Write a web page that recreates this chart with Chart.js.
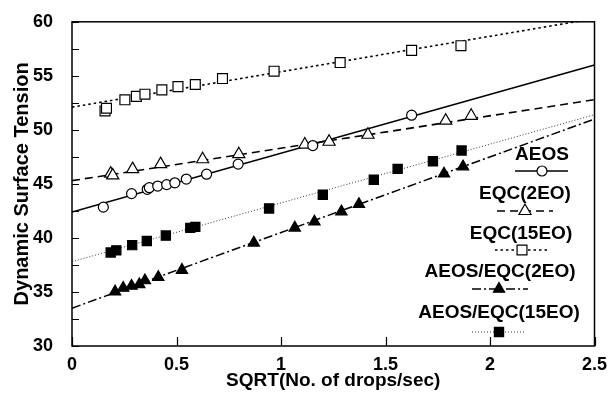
<!DOCTYPE html>
<html>
<head>
<meta charset="utf-8">
<script src="https://cdn.jsdelivr.net/npm/chart.js@4/dist/chart.umd.min.js"></script>
<style>
  html, body { margin: 0; padding: 0; background: #fff; }
  #wrap { width: 612px; height: 396px; }
</style>
</head>
<body>
<div id="wrap"><canvas id="c" width="612" height="396"></canvas></div>
<script>
// Series names
const seriesNames = ['AEOS', 'EQC(2EO)', 'EQC(15EO)', 'AEOS/EQC(2EO)', 'AEOS/EQC(15EO)'];

// Measured points: x = SQRT(drops/sec), y = dynamic surface tension
const aeosX = [0.15, 0.285, 0.36, 0.37, 0.41, 0.453, 0.492, 0.547, 0.644, 0.795, 1.152, 1.625];
const aeosY = [42.85, 44.1, 44.5, 44.65, 44.8, 44.93, 45.1, 45.45, 45.9, 46.83, 48.55, 51.36];

const eqc2X = [0.185, 0.195, 0.29, 0.424, 0.625, 0.798, 1.114, 1.23, 1.416, 1.788, 1.91];
const eqc2Y = [45.95, 45.78, 46.37, 46.83, 47.28, 47.75, 48.64, 48.9, 49.55, 50.85, 51.3];

const eqc15X = [0.158, 0.165, 0.253, 0.308, 0.349, 0.43, 0.507, 0.59, 0.72, 0.967, 1.283, 1.625, 1.861];
const eqc15Y = [51.75, 52.0, 52.78, 53.1, 53.3, 53.7, 54.0, 54.2, 54.75, 55.43, 56.23, 57.36, 57.79];

const mix2X = [0.206, 0.245, 0.285, 0.322, 0.349, 0.413, 0.526, 0.87, 1.066, 1.16, 1.289, 1.373, 1.78, 1.871];
const mix2Y = [35.03, 35.37, 35.55, 35.7, 36.06, 36.36, 37.03, 39.55, 40.94, 41.5, 42.43, 43.12, 45.94, 46.6];

const mix15X = [0.185, 0.212, 0.288, 0.358, 0.449, 0.566, 0.59, 0.943, 1.2, 1.444, 1.558, 1.727, 1.864];
const mix15Y = [38.65, 38.85, 39.33, 39.72, 40.22, 40.93, 41.02, 42.73, 44.0, 45.39, 46.39, 47.09, 48.09];

// Fitted straight lines: value at x = 0 and at x = 2.5
const fitX = [0, 2.5];
const aeosFit = [42.4, 56.0];
const eqc2Fit = [45.3, 52.8];
const eqc15Fit = [52.1, 60.3];
const mix2Fit = [33.5, 51.0];
const mix15Fit = [37.8, 51.4];

// Axis ticks
const xTicks = [0, 0.5, 1, 1.5, 2, 2.5];
const yTicks = [30, 32.5, 35, 37.5, 40, 42.5, 45, 47.5, 50, 52.5, 55, 57.5, 60];
const yLabelled = [30, 35, 40, 45, 50, 55, 60];

const FONT = "'Liberation Sans', Arial, Helvetica, sans-serif";
const pts = (xs, ys) => xs.map((x, i) => ({ x: x, y: ys[i] }));

const markerStyles = [
  { pointStyle: 'circle',   r: 5,   fill: '#fff' },
  { pointStyle: 'triangle', r: 7,   fill: '#fff' },
  { pointStyle: 'rect',     r: 7,   fill: '#fff' },
  { pointStyle: 'triangle', r: 6.5, fill: '#000' },
  { pointStyle: 'rect',     r: 6.5, fill: '#000' }
];
const lineStyles = [
  { dash: [],            width: 1.6, color: '#000' },
  { dash: [8, 5],        width: 1.6, color: '#000' },
  { dash: [2.5, 3],      width: 1.6, color: '#000' },
  { dash: [9, 3, 2, 3],  width: 1.5, color: '#000' },
  { dash: [1, 2],        width: 1.0, color: '#333' }
];

const pointSets = [pts(aeosX, aeosY), pts(eqc2X, eqc2Y), pts(eqc15X, eqc15Y), pts(mix2X, mix2Y), pts(mix15X, mix15Y)];
const fitSets = [aeosFit, eqc2Fit, eqc15Fit, mix2Fit, mix15Fit].map(f => pts(fitX, f));

const datasets = [];
pointSets.forEach((d, i) => {
  const m = markerStyles[i];
  datasets.push({
    type: 'scatter', label: seriesNames[i], data: d, showLine: false,
    pointStyle: m.pointStyle, pointRadius: m.r, pointHoverRadius: m.r,
    pointBackgroundColor: m.fill, pointBorderColor: '#000', pointBorderWidth: 1.2
  });
});
fitSets.forEach((d, i) => {
  const l = lineStyles[i];
  datasets.push({
    type: 'line', label: seriesNames[i] + ' fit', data: d, showLine: true,
    borderColor: l.color, borderWidth: l.width, borderDash: l.dash,
    pointRadius: 0, fill: false, tension: 0
  });
});

function drawMarker(ctx, style, x, y, r, fill) {
  ctx.save();
  ctx.setLineDash([]);
  ctx.lineWidth = 1.2;
  ctx.strokeStyle = '#000';
  ctx.fillStyle = fill;
  ctx.beginPath();
  if (style === 'circle') {
    ctx.arc(x, y, r, 0, Math.PI * 2);
  } else if (style === 'triangle') {
    ctx.moveTo(x, y - r);
    ctx.lineTo(x + r * Math.sin(Math.PI / 3), y + r / 2);
    ctx.lineTo(x - r * Math.sin(Math.PI / 3), y + r / 2);
    ctx.closePath();
  } else {
    const s = r / Math.SQRT2;
    ctx.rect(x - s, y - s, 2 * s, 2 * s);
  }
  ctx.fill();
  ctx.stroke();
  ctx.restore();
}

// Frame, inward tick marks and the stacked legend inside the plot
const framePlugin = {
  id: 'frame',
  afterDraw(chart) {
    const ctx = chart.ctx;
    const a = chart.chartArea;
    const xs = chart.scales.x, ys = chart.scales.y;
    ctx.save();
    ctx.strokeStyle = '#000';
    ctx.lineWidth = 1.5;
    ctx.setLineDash([]);
    ctx.strokeRect(a.left, a.top, a.right - a.left, a.bottom - a.top);
    ctx.lineWidth = 1.2;
    ctx.beginPath();
    yTicks.forEach(v => {
      const p = Math.round(ys.getPixelForValue(v)) + 0.5;
      ctx.moveTo(a.left, p); ctx.lineTo(a.left + 7, p);
    });
    xTicks.forEach(v => {
      const p = Math.round(xs.getPixelForValue(v)) + 0.5;
      ctx.moveTo(p, a.bottom); ctx.lineTo(p, a.bottom - 9);
    });
    ctx.stroke();

    const entries = [
      { tx: 542, ty: 155, ly: 171, x1: 515, x2: 568, mx: 542 },
      { tx: 525, ty: 194, ly: 211, x1: 497, x2: 553, mx: 525 },
      { tx: 521, ty: 234, ly: 250, x1: 495, x2: 548, mx: 522 },
      { tx: 500, ty: 272, ly: 289, x1: 472, x2: 528, mx: 499 },
      { tx: 499, ty: 313, ly: 332, x1: 472, x2: 526, mx: 499 }
    ];
    ctx.font = 'bold 19px ' + FONT;
    ctx.textAlign = 'center';
    ctx.textBaseline = 'middle';
    ctx.fillStyle = '#000';
    entries.forEach((e, i) => {
      ctx.fillText(seriesNames[i], e.tx, e.ty);
      const l = lineStyles[i];
      ctx.save();
      ctx.strokeStyle = l.color;
      ctx.lineWidth = l.width;
      ctx.setLineDash(l.dash);
      ctx.beginPath();
      ctx.moveTo(e.x1, e.ly); ctx.lineTo(e.x2, e.ly);
      ctx.stroke();
      ctx.restore();
      const m = markerStyles[i];
      drawMarker(ctx, m.pointStyle, e.mx, e.ly, m.r, m.fill);
    });
    ctx.restore();
  }
};

new Chart(document.getElementById('c'), {
  data: { datasets: datasets },
  options: {
    responsive: false,
    animation: false,
    devicePixelRatio: 1,
    layout: { padding: { top: 16, right: 17.5, left: 0, bottom: 0 } },
    plugins: { legend: { display: false }, tooltip: { enabled: false } },
    scales: {
      x: {
        type: 'linear', min: 0, max: 2.5,
        afterBuildTicks: s => { s.ticks = xTicks.map(v => ({ value: v })); },
        afterFit: s => { s.height = 50; },
        grid: { display: false },
        border: { display: false },
        ticks: { color: '#000', padding: 0, font: { family: FONT, size: 18, weight: 'bold' },
                 maxRotation: 0, callback: v => String(v) },
        title: { display: true, text: 'SQRT(No. of drops/sec)', color: '#000',
                 font: { family: FONT, size: 19, weight: 'bold' }, padding: { top: 0, bottom: 4 } }
      },
      y: {
        type: 'linear', min: 30, max: 60,
        afterBuildTicks: s => { s.ticks = yTicks.map(v => ({ value: v })); },
        afterFit: s => { s.width = 72; },
        grid: { display: false },
        border: { display: false },
        ticks: { color: '#000', padding: 11, font: { family: FONT, size: 18, weight: 'bold' },
                 callback: v => (yLabelled.includes(v) ? String(v) : '') },
        title: { display: true, text: 'Dynamic Surface Tension', color: '#000',
                 font: { family: FONT, size: 20, weight: 'bold' }, padding: { top: 10, bottom: 0 } }
      }
    }
  },
  plugins: [framePlugin]
});
</script>
</body>
</html>
